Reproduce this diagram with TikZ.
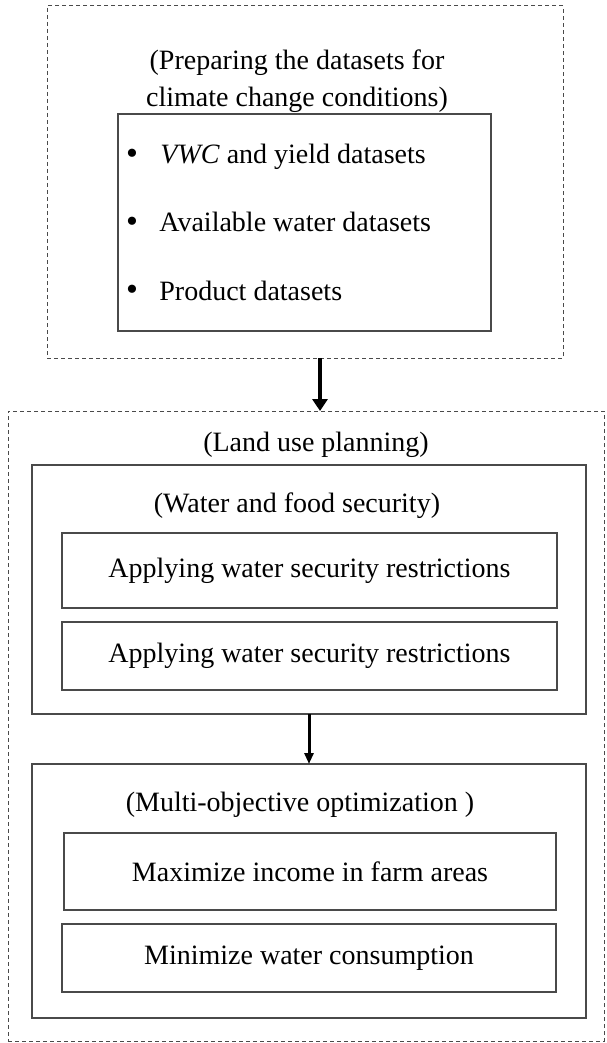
\documentclass[tikz,border=0pt]{standalone}
\usepackage{fontspec}
\setmainfont{Liberation Serif}
\usepackage{xcolor}
\usepackage{tikz}
\usetikzlibrary{arrows.meta}
\definecolor{edge}{HTML}{4A4A4A}
\tikzset{
  outer/.style={draw=edge, dash pattern=on 2pt off 1.5pt, line width=0.5pt, inner sep=0pt, outer sep=0pt},
  panel/.style={draw=edge, line width=0.7pt, inner sep=0pt, outer sep=0pt, font=\fontsize{14}{17}\selectfont},
  head/.style={font=\fontsize{14}{18.5}\selectfont, align=center, inner sep=0pt},
  item/.style={font=\fontsize{14}{17}\selectfont, anchor=base west, inner sep=0pt},
  dot/.style={font=\fontsize{17}{17}\selectfont, inner sep=0pt},
  flow/.style={line width=2pt, -{Triangle[length=6pt, width=7.5pt]}},
  flowthin/.style={line width=1.5pt, -{Triangle[length=5.5pt, width=4.5pt]}}
}

\begin{document}
\begin{tikzpicture}[x=0.5pt, y=-0.5pt]
    \useasboundingbox (0,0) rectangle (606,1043);

    % --- DATASETS ---
    \node[outer, minimum width=258pt, minimum height=176pt] (prep) at (305,182) {};
    \node[head] (prephead) at (297,81) {(Preparing the datasets for\\climate change conditions)};
    \node[panel, minimum width=186.5pt, minimum height=108.5pt] (data) at (304.5,222.5) {};

    \node[dot] (dot1) at (132,157) {•};
    \node[item] (vwc) at (160,164) {\textit{VWC} and yield datasets};
    \node[dot] (dot2) at (132,225) {•};
    \node[item] (avail) at (159,232) {Available water datasets};
    \node[dot] (dot3) at (132,293) {•};
    \node[item] (prod) at (159,300) {Product datasets};

    % --- LAND USE ---
    \node[outer, minimum width=298pt, minimum height=315pt] (land) at (306,726) {};
    \node[head, anchor=base] (landhead) at (316,451) {(Land use planning)};

    % (water and food)
    \node[panel, minimum width=277pt, minimum height=124.5pt] (water) at (309,589.5) {};
    \node[head, anchor=base] (waterhead) at (297,512) {(Water and food security)};
    \node[panel, minimum width=247.5pt, minimum height=37.5pt] (apply1) at (309.5,570.5) {Applying water security restrictions};
    \node[panel, minimum width=247.5pt, minimum height=34pt] (apply2) at (309.5,656) {Applying water security restrictions};

    % (optimization)
    \node[panel, minimum width=277pt, minimum height=127pt] (multi) at (309,891) {};
    \node[head, anchor=base] (multihead) at (300,811) {(Multi-objective optimization )};
    \node[panel, minimum width=246pt, minimum height=38.5pt] (maxi) at (310,871.5) {Maximize income in farm areas};
    \node[panel, minimum width=247pt, minimum height=34pt] (mini) at (309,958) {Minimize water consumption};

    % --- ARROWS ---
    \draw[flow] ([xshift=7.5pt]prep.south) -- ([xshift=7.5pt]prep.south |- land.north);
    \draw[flowthin] (water.south) -- (multi.north);
\end{tikzpicture}
\end{document}
